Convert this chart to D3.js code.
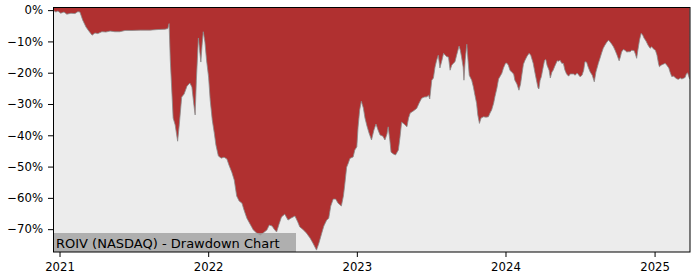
<!DOCTYPE html>
<html><head><meta charset="utf-8">
<script src="https://cdn.jsdelivr.net/npm/d3@7"></script>
<style>body{margin:0;background:#fff}</style>
</head><body><svg id="c" width="700" height="280"></svg>
<script>
const chartTitle = "ROIV (NASDAQ) - Drawdown Chart";
const xDomain = ["2020-12-16", "2025-03-29"];
const xTickLabels = ["2021", "2022", "2023", "2024", "2025"];
const yTicks = [0, -10, -20, -30, -40, -50, -60, -70];
const yDomain = [1, -77.3];
const dates = [
"2020-12-16","2020-12-23","2020-12-28","2021-01-04","2021-01-12","2021-01-19","2021-01-29","2021-02-08","2021-02-15","2021-02-20",
"2021-02-27","2021-03-07","2021-03-14","2021-03-22","2021-03-29","2021-04-05","2021-04-15","2021-04-25","2021-05-05","2021-05-17",
"2021-05-29","2021-06-11","2021-06-28","2021-07-18","2021-08-11","2021-08-31","2021-09-17","2021-09-24","2021-09-27","2021-09-30",
"2021-10-07","2021-10-12","2021-10-18","2021-10-22","2021-10-28","2021-11-03","2021-11-10","2021-11-17","2021-11-22","2021-11-27",
"2021-11-30","2021-12-03","2021-12-08","2021-12-11","2021-12-14","2021-12-17","2021-12-20","2021-12-24","2021-12-28","2022-01-02",
"2022-01-06","2022-01-11","2022-01-16","2022-01-20","2022-01-26","2022-02-02","2022-02-09","2022-02-16","2022-02-21","2022-02-28",
"2022-03-06","2022-03-12","2022-03-18","2022-03-25","2022-03-30","2022-04-06","2022-04-14","2022-04-22","2022-04-30","2022-05-09",
"2022-05-16","2022-05-25","2022-05-31","2022-06-07","2022-06-12","2022-06-18","2022-06-24","2022-06-30","2022-07-08","2022-07-16",
"2022-07-23","2022-08-02","2022-08-09","2022-08-14","2022-08-21","2022-08-30","2022-09-08","2022-09-15","2022-09-24","2022-09-30",
"2022-10-07","2022-10-12","2022-10-19","2022-10-24","2022-10-29","2022-11-04","2022-11-10","2022-11-16","2022-11-24","2022-11-29",
"2022-12-02","2022-12-07","2022-12-11","2022-12-15","2022-12-23","2022-12-27","2023-01-01","2023-01-04","2023-01-08","2023-01-12",
"2023-01-17","2023-01-21","2023-01-26","2023-01-31","2023-02-06","2023-02-12","2023-02-17","2023-02-22","2023-02-27","2023-03-06",
"2023-03-11","2023-03-16","2023-03-19","2023-03-23","2023-03-26","2023-04-01","2023-04-06","2023-04-13","2023-04-17","2023-04-21",
"2023-04-27","2023-05-04","2023-05-08","2023-05-12","2023-05-19","2023-05-28","2023-06-03","2023-06-09","2023-06-15","2023-06-22",
"2023-06-26","2023-06-29","2023-07-04","2023-07-08","2023-07-12","2023-07-16","2023-07-20","2023-07-24","2023-07-29","2023-08-02",
"2023-08-06","2023-08-10","2023-08-14","2023-08-18","2023-08-22","2023-08-26","2023-08-30","2023-09-03","2023-09-09","2023-09-12",
"2023-09-15","2023-09-19","2023-09-21","2023-09-24","2023-09-28","2023-10-01","2023-10-04","2023-10-10","2023-10-14","2023-10-18",
"2023-10-22","2023-10-25","2023-10-29","2023-11-02","2023-11-08","2023-11-14","2023-11-20","2023-11-24","2023-11-28","2023-12-03",
"2023-12-06","2023-12-11","2023-12-15","2023-12-19","2023-12-23","2023-12-27","2024-01-01","2024-01-04","2024-01-08","2024-01-12",
"2024-01-16","2024-01-21","2024-01-24","2024-01-29","2024-02-03","2024-02-07","2024-02-10","2024-02-14","2024-02-18","2024-02-23",
"2024-02-28","2024-03-03","2024-03-09","2024-03-13","2024-03-17","2024-03-21","2024-03-23","2024-03-26","2024-03-29","2024-04-03",
"2024-04-06","2024-04-09","2024-04-12","2024-04-17","2024-04-20","2024-04-24","2024-04-27","2024-05-01","2024-05-07","2024-05-10",
"2024-05-14","2024-05-18","2024-05-22","2024-05-26","2024-05-30","2024-06-04","2024-06-08","2024-06-16","2024-06-20","2024-06-25",
"2024-07-02","2024-07-07","2024-07-11","2024-07-14","2024-07-18","2024-07-22","2024-07-27","2024-08-01","2024-08-06","2024-08-10",
"2024-08-16","2024-08-20","2024-08-24","2024-08-28","2024-09-01","2024-09-06","2024-09-10","2024-09-14","2024-09-18","2024-09-22",
"2024-09-26","2024-10-01","2024-10-06","2024-10-09","2024-10-12","2024-10-16","2024-10-20","2024-10-25","2024-10-28","2024-11-02",
"2024-11-06","2024-11-12","2024-11-15","2024-11-18","2024-11-21","2024-11-25","2024-11-29","2024-12-03","2024-12-06","2024-12-11",
"2024-12-16","2024-12-21","2024-12-25","2024-12-30","2025-01-03","2025-01-07","2025-01-11","2025-01-13","2025-01-17","2025-01-22",
"2025-01-27","2025-01-31","2025-02-05","2025-02-08","2025-02-12","2025-02-17","2025-02-21","2025-02-25","2025-03-01","2025-03-05",
"2025-03-09","2025-03-13","2025-03-17","2025-03-20","2025-03-23","2025-03-28"
];
const drawdown = [
0,-0.6,-0.3,-1.0,-0.6,-1.3,-1.0,-1.1,-0.5,-0.6,
-3.2,-5.4,-6.7,-8.0,-7.3,-7.5,-6.9,-7.0,-6.7,-6.9,
-6.9,-6.5,-6.5,-6.4,-6.4,-6.2,-6.1,-5.9,-4.3,-16,
-34.5,-36.7,-41.9,-36.7,-27.8,-26.8,-24.3,-23.3,-24.6,-30.4,
-33.5,-22.4,-8.9,-12.8,-16.6,-11.2,-6.9,-10.2,-16.0,-21.4,
-28.8,-35.1,-39.3,-43.1,-46.6,-47.3,-47.0,-47.6,-49.5,-51.8,
-54.3,-59.4,-61.0,-61.7,-63.9,-66.5,-68.4,-70.3,-71.2,-71.9,
-71.2,-70.3,-68.7,-69.0,-70.0,-70.9,-68.4,-66.1,-65.2,-67.1,
-66.5,-65.8,-67.7,-69.3,-70.0,-71.2,-72.8,-74.4,-76.7,-74.4,
-71.2,-69.0,-67.1,-66.5,-62.6,-60.4,-60.4,-61.7,-62.6,-59.4,
-56.2,-50.2,-48.9,-47.4,-46.9,-44.7,-43.7,-37.4,-31.9,-29.1,
-31.3,-34.5,-37.1,-39.3,-41.5,-38.3,-36.4,-38.3,-39.9,-40.3,
-41.5,-39.6,-37.3,-41.5,-45.4,-46.0,-46.3,-44.7,-40.6,-35.8,
-36.4,-37.3,-34.5,-32.9,-32.3,-31.4,-29.7,-28.2,-27.8,-27.7,
-27.2,-28.4,-22.4,-21.7,-18.2,-16.0,-14.4,-18.5,-16.0,-13.8,
-14.4,-14.9,-15.0,-19.2,-17.6,-17.0,-16.5,-14.4,-11.5,-12.8,
-14.9,-18.2,-22.4,-16.0,-10.9,-16.0,-20.8,-22.4,-24.5,-27.2,
-29.8,-33.5,-36.2,-34.5,-34.1,-34.2,-34.1,-32.9,-31.9,-29.7,
-27.7,-24.9,-22.0,-21.1,-20.2,-18.5,-17.0,-16.9,-17.6,-19.2,
-19.8,-20.4,-22.4,-23.6,-25.6,-23.6,-20.8,-17.3,-16.0,-14.7,
-13.8,-14.4,-17.0,-19.8,-22.4,-24.9,-25.2,-22.4,-21.3,-17.9,
-16.0,-15.8,-17.6,-19.2,-21.7,-19.8,-19.2,-17.9,-16.2,-16.3,
-16.0,-17.0,-17.0,-19.2,-20.4,-21.1,-20.4,-20.4,-20.8,-20.1,
-21.3,-20.8,-19.2,-16.5,-16.6,-18.2,-19.8,-20.8,-22.9,-19.8,
-17.0,-15.4,-13.7,-12.2,-11.2,-10.2,-9.6,-10.2,-10.9,-11.7,
-12.8,-14.4,-16.2,-15.0,-13.4,-12.6,-12.8,-13.4,-13.3,-13.3,
-12.8,-13.0,-14.1,-15.4,-12.8,-9.6,-7.4,-8.0,-8.9,-9.9,
-11.2,-12.2,-11.7,-12.5,-12.8,-14.4,-17.3,-18.1,-17.6,-17.3,
-17.0,-17.6,-18.5,-19.8,-21.2,-21.1,-21.6,-22.0,-22.1,-21.7,
-22.0,-21.8,-21.5,-20.4,-20.0,-22.0
];

const parse = d3.timeParse("%Y-%m-%d");
const data = dates.map((d, i) => ({date: parse(d), v: drawdown[i]}));

const L = 53, R = 690, T = 7, B = 252;
const svg = d3.select("#c");
const font = "DejaVu Sans, sans-serif";

const x = d3.scaleTime().domain(xDomain.map(parse)).range([L, R]);
const y = d3.scaleLinear().domain(yDomain).range([T, B]);

svg.append("rect").attr("x", L).attr("y", T).attr("width", R - L).attr("height", B - T).attr("fill", "#ececec");

svg.append("path").datum(data)
  .attr("fill", "#b03030")
  .attr("d", d3.area().x(d => x(d.date)).y0(T).y1(d => y(d.v)));

svg.append("path").datum(data)
  .attr("fill", "none").attr("stroke", "#8a8a8a").attr("stroke-width", 0.8)
  .attr("d", d3.line().x(d => x(d.date)).y(d => y(d.v)));

// title box
const tg = svg.append("g");
tg.append("rect").attr("x", L).attr("y", 233).attr("width", 296 - L).attr("height", B - 233)
  .attr("fill", "rgb(160,160,160)").attr("fill-opacity", 0.8);
tg.append("text").attr("x", 56).attr("y", 247.5).attr("font-family", font).attr("font-size", 13)
  .attr("fill", "#000").text(chartTitle);

// axes
const yAxis = d3.axisLeft(y).tickValues(yTicks).tickSize(5).tickPadding(5)
  .tickFormat(d => d === 0 ? "0%" : "\u2212" + Math.abs(d) + "%");
const gy = svg.append("g").attr("transform", `translate(${L},0)`).call(yAxis);
gy.select(".domain").remove();
gy.selectAll("text").attr("font-family", font).attr("font-size", 11.7).attr("fill", "#000");
gy.selectAll("line").attr("stroke", "#000");

const xTicks = xTickLabels.map(s => parse(s + "-01-01"));
const xAxis = d3.axisBottom(x).tickValues(xTicks).tickSize(5).tickPadding(5.5)
  .tickFormat((d, i) => xTickLabels[i]);
const gx = svg.append("g").attr("transform", `translate(0,${B})`).call(xAxis);
gx.select(".domain").remove();
gx.selectAll("text").attr("font-family", font).attr("font-size", 11.7).attr("fill", "#000");
gx.selectAll("line").attr("stroke", "#000");

svg.append("rect").attr("x", L + 0.5).attr("y", T + 0.5).attr("width", R - L - 0.5).attr("height", B - T - 0.5)
  .attr("fill", "none").attr("stroke", "#000").attr("stroke-width", 1);
</script>
</body></html>
